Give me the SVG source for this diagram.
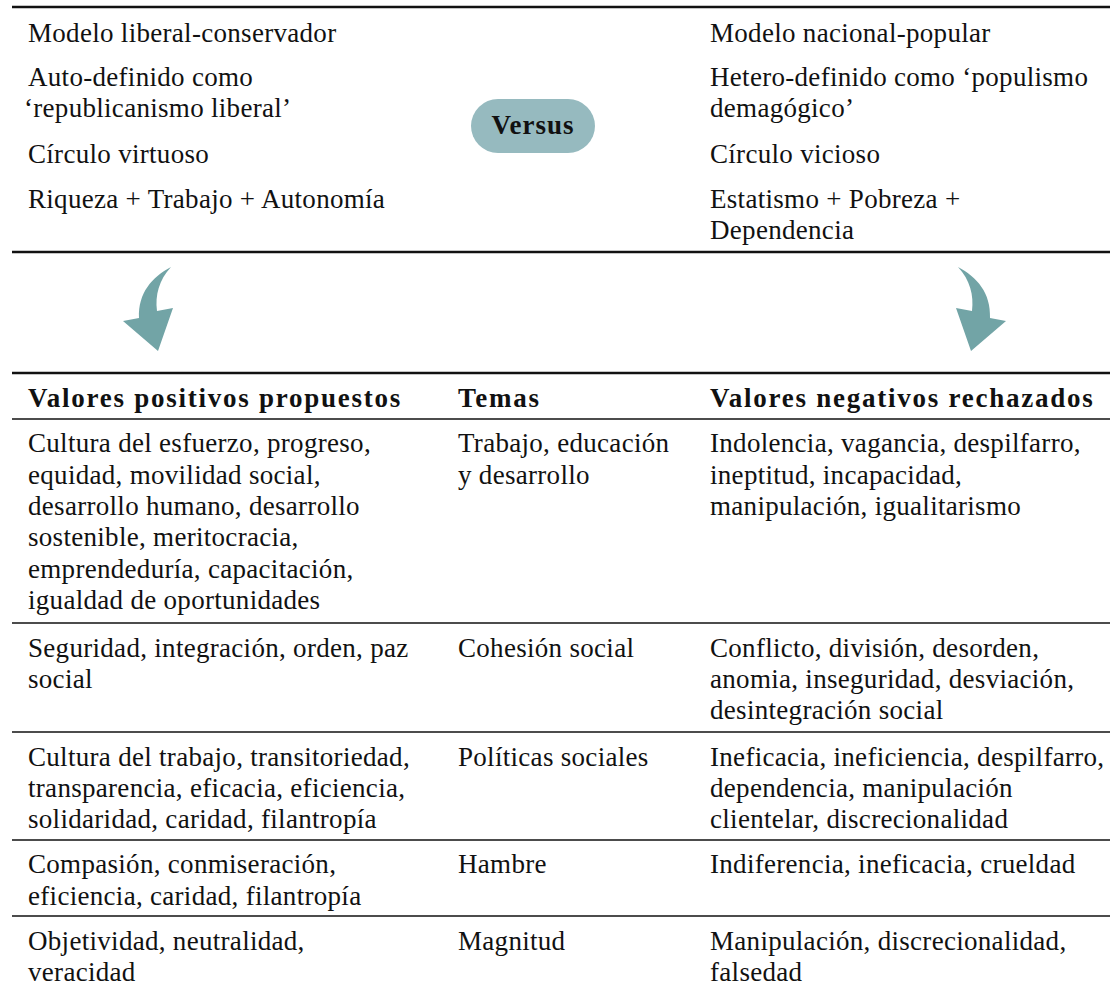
<svg xmlns="http://www.w3.org/2000/svg" width="1110" height="989" viewBox="0 0 1110 989">
<style>
text{font-family:'Liberation Serif','DejaVu Serif',serif;font-size:27px;fill:#111;letter-spacing:0.3px}
.b{font-weight:bold;letter-spacing:1.75px}
.thick{stroke:#111;stroke-width:2.6}
.thin{stroke:#111;stroke-width:1.5}
.arrow{fill:#72a4a6}
</style>
<rect width="1110" height="989" fill="#fff"/>
<g id="rules">
<line class="thick" x1="12" y1="7" x2="1110" y2="7"/>
<line class="thick" x1="12" y1="252" x2="1110" y2="252"/>
<line class="thick" x1="12" y1="373" x2="1110" y2="373"/>
<line class="thin" x1="12" y1="419" x2="1110" y2="419"/>
<line class="thin" x1="12" y1="623" x2="1110" y2="623"/>
<line class="thin" x1="12" y1="732" x2="1110" y2="732"/>
<line class="thin" x1="12" y1="840" x2="1110" y2="840"/>
<line class="thin" x1="12" y1="916" x2="1110" y2="916"/>
</g>
<g id="left-model">
<text x="28" y="42">Modelo liberal-conservador</text>
<text x="28" y="86">Auto-definido como</text>
<text x="24" y="117">‘republicanismo liberal’</text>
<text x="28" y="163">Círculo virtuoso</text>
<text x="28" y="208">Riqueza + Trabajo + Autonomía</text>
</g>
<g id="versus">
<rect x="471" y="99" width="124" height="54" rx="27" fill="#96babf"/>
<text class="b" x="533" y="134" text-anchor="middle" style="letter-spacing:1px">Versus</text>
</g>
<g id="right-model">
<text x="710" y="42">Modelo nacional-popular</text>
<text x="710" y="86">Hetero-definido como ‘populismo</text>
<text x="710" y="117">demagógico’</text>
<text x="710" y="163">Círculo vicioso</text>
<text x="710" y="208">Estatismo + Pobreza +</text>
<text x="710" y="239">Dependencia</text>
</g>
<g id="connectors">
<path class="arrow" d="M171,267 C152,277 138,293 139,318 L123,321 L158,351 L173,308 L157,311 C155,295 159,280 171,267 Z"/>
<path class="arrow" d="M958,267 C977,277 991,293 990,318 L1006,321 L971,351 L956,308 L972,311 C974,295 970,280 958,267 Z"/>
</g>
<g id="header">
<text class="b" x="28" y="407">Valores positivos propuestos</text>
<text class="b" x="458" y="407">Temas</text>
<text class="b" x="710" y="407">Valores negativos rechazados</text>
</g>
<g id="row1">
<text x="28" y="452">Cultura del esfuerzo, progreso,</text>
<text x="28" y="483.5">equidad, movilidad social,</text>
<text x="28" y="515">desarrollo humano, desarrollo</text>
<text x="28" y="546">sostenible, meritocracia,</text>
<text x="28" y="577.5">emprendeduría, capacitación,</text>
<text x="28" y="609">igualdad de oportunidades</text>
<text x="458" y="452">Trabajo, educación</text>
<text x="458" y="483.5">y desarrollo</text>
<text x="710" y="452">Indolencia, vagancia, despilfarro,</text>
<text x="710" y="483.5">ineptitud, incapacidad,</text>
<text x="710" y="515">manipulación, igualitarismo</text>
</g>
<g id="row2">
<text x="28" y="657">Seguridad, integración, orden, paz</text>
<text x="28" y="688">social</text>
<text x="458" y="657">Cohesión social</text>
<text x="710" y="657">Conflicto, división, desorden,</text>
<text x="710" y="688">anomia, inseguridad, desviación,</text>
<text x="710" y="719">desintegración social</text>
</g>
<g id="row3">
<text x="28" y="766">Cultura del trabajo, transitoriedad,</text>
<text x="28" y="797">transparencia, eficacia, eficiencia,</text>
<text x="28" y="828">solidaridad, caridad, filantropía</text>
<text x="458" y="766">Políticas sociales</text>
<text x="710" y="766">Ineficacia, ineficiencia, despilfarro,</text>
<text x="710" y="797">dependencia, manipulación</text>
<text x="710" y="828">clientelar, discrecionalidad</text>
</g>
<g id="row4">
<text x="28" y="873">Compasión, conmiseración,</text>
<text x="28" y="905">eficiencia, caridad, filantropía</text>
<text x="458" y="873">Hambre</text>
<text x="710" y="873">Indiferencia, ineficacia, crueldad</text>
</g>
<g id="row5">
<text x="28" y="950">Objetividad, neutralidad,</text>
<text x="28" y="981">veracidad</text>
<text x="458" y="950">Magnitud</text>
<text x="710" y="950">Manipulación, discrecionalidad,</text>
<text x="710" y="981">falsedad</text>
</g>
</svg>
